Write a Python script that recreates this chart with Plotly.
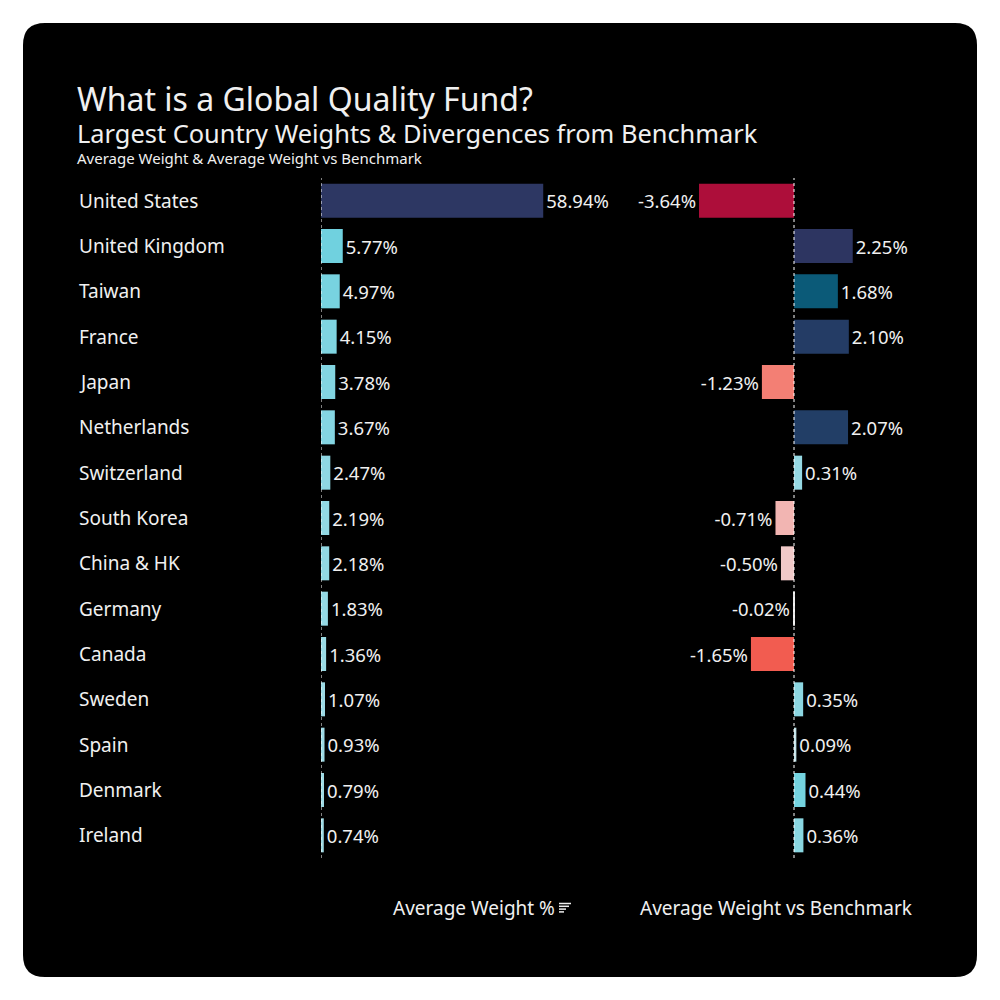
import plotly.graph_objects as go

countries = ["United States", "United Kingdom", "Taiwan", "France", "Japan",
             "Netherlands", "Switzerland", "South Korea", "China & HK", "Germany",
             "Canada", "Sweden", "Spain", "Denmark", "Ireland"]
avg_weight = [58.94, 5.77, 4.97, 4.15, 3.78, 3.67, 2.47, 2.19, 2.18, 1.83,
              1.36, 1.07, 0.93, 0.79, 0.74]
vs_benchmark = [-3.64, 2.25, 1.68, 2.10, -1.23, 2.07, 0.31, -0.71, -0.50, -0.02,
                -1.65, 0.35, 0.09, 0.44, 0.36]

title = "What is a Global Quality Fund?"
subtitle = "Largest Country Weights & Divergences from Benchmark"
subsub = "Average Weight & Average Weight vs Benchmark"
xtitle1 = "Average Weight %"
xtitle2 = "Average Weight vs Benchmark"

FONT = "Trebuchet MS, Noto Sans, DejaVu Sans, sans-serif"
TXT = "#f0f0f0"

# colour scales
left_cmin, left_cmax = 0.0, 60.0
left_scale = [[0.0, "#a6dce6"], [0.1, "#6ed1df"], [0.35, "#1f7d9c"], [1.0, "#2d3561"]]

rc_min, rc_max = -3.64, 2.25
def n(v):
    return (v - rc_min) / (rc_max - rc_min)
right_pairs = [(-3.64, "#ad0e3a"), (-1.65, "#f25c50"), (-1.23, "#f37f74"),
               (-0.71, "#f2b5b2"), (-0.50, "#f0c9c8"), (0.0, "#e6e6e6"),
               (0.09, "#c3e4ea"), (0.33, "#92d8e3"), (0.44, "#74d3e0"),
               (1.68, "#0b5a78"), (2.08, "#233d66"), (2.25, "#2d3561")]
right_scale = [[n(v), c] for v, c in right_pairs]

fig = go.Figure()
fig.add_trace(go.Bar(
    x=avg_weight, y=countries, orientation="h", xaxis="x", yaxis="y",
    marker=dict(color=avg_weight, colorscale=left_scale, cmin=left_cmin, cmax=left_cmax, line_width=0),
    width=0.75, text=[f"{v:.2f}%" for v in avg_weight], textposition="outside",
    textfont=dict(family=FONT, size=18.5, color=TXT), constraintext="none", cliponaxis=False,
    hoverinfo="skip", showlegend=False))
fig.add_trace(go.Bar(
    x=vs_benchmark, y=countries, orientation="h", xaxis="x2", yaxis="y",
    marker=dict(color=vs_benchmark, colorscale=right_scale, cmin=rc_min, cmax=rc_max, line_width=0),
    width=0.75, text=[f"{v:.2f}%" for v in vs_benchmark], textposition="outside",
    textfont=dict(family=FONT, size=18.5, color=TXT), constraintext="none", cliponaxis=False,
    hoverinfo="skip", showlegend=False))

# rounded black card
x0, x1, y0, y1, r = 0.023, 0.977, 0.023, 0.977, 0.022
path = (f"M {x0+r},{y0} L {x1-r},{y0} Q {x1},{y0} {x1},{y0+r} L {x1},{y1-r} "
        f"Q {x1},{y1} {x1-r},{y1} L {x0+r},{y1} Q {x0},{y1} {x0},{y1-r} "
        f"L {x0},{y0+r} Q {x0},{y0} {x0+r},{y0} Z")
shapes = [dict(type="path", path=path, xref="paper", yref="paper",
               fillcolor="#000000", line_width=0, layer="below")]
for ax in ["x", "x2"]:
    shapes.append(dict(type="line", xref=ax, yref="paper", x0=0, x1=0, y0=0.142, y1=0.822,
                       line=dict(color="#ffffff", width=1, dash="dot"), layer="above"))
# small sort icon next to the first axis title
for i, w in enumerate([0.012, 0.010, 0.007, 0.005]):
    yy = 1 - (0.9035 + i * 0.0028)
    shapes.append(dict(type="line", xref="paper", yref="paper", x0=0.559, x1=0.559 + w,
                       y0=yy, y1=yy, line=dict(color=TXT, width=1.5)))

annotations = [
    dict(text=title, x=0.075, y=1 - 0.099, xref="paper", yref="paper", xanchor="left", yanchor="middle",
         showarrow=False, font=dict(family=FONT, size=32, color=TXT)),
    dict(text=subtitle, x=0.075, y=1 - 0.133, xref="paper", yref="paper", xanchor="left", yanchor="middle",
         showarrow=False, font=dict(family=FONT, size=25.4, color=TXT)),
    dict(text=subsub, x=0.075, y=1 - 0.158, xref="paper", yref="paper", xanchor="left", yanchor="middle",
         showarrow=False, font=dict(family=FONT, size=15, color=TXT)),
    dict(text=xtitle1, x=0.474, y=1 - 0.908, xref="paper", yref="paper", xanchor="center", yanchor="middle",
         showarrow=False, font=dict(family=FONT, size=19, color=TXT)),
    dict(text=xtitle2, x=0.7755, y=1 - 0.908, xref="paper", yref="paper", xanchor="center", yanchor="middle",
         showarrow=False, font=dict(family=FONT, size=19, color=TXT)),
]
for c in countries:
    annotations.append(dict(text=c, x=0.077, y=c, xref="paper", yref="y", xanchor="left",
                            yanchor="middle", showarrow=False,
                            font=dict(family=FONT, size=19, color=TXT)))

fig.update_layout(
    width=1000, height=1000, margin=dict(l=0, r=0, t=0, b=0),
    paper_bgcolor="#ffffff", plot_bgcolor="rgba(0,0,0,0)",
    font=dict(family=FONT, color=TXT),
    bargap=0.25,
    xaxis=dict(domain=[0.321, 0.62], range=[0, 79.3], showgrid=False, zeroline=False,
               showticklabels=False, fixedrange=True),
    xaxis2=dict(domain=[0.62, 0.93], range=[-6.667, 5.21], showgrid=False, zeroline=False,
                showticklabels=False, fixedrange=True),
    yaxis=dict(domain=[0.142, 0.822], range=[14.5, -0.5], type="category",
               categoryorder="array", categoryarray=countries,
               showgrid=False, zeroline=False, showticklabels=False, fixedrange=True),
    shapes=shapes, annotations=annotations,
)

fig.write_html("out.html", config={"displayModeBar": False},
               post_script="document.body.style.margin='0';document.body.style.padding='0';")
